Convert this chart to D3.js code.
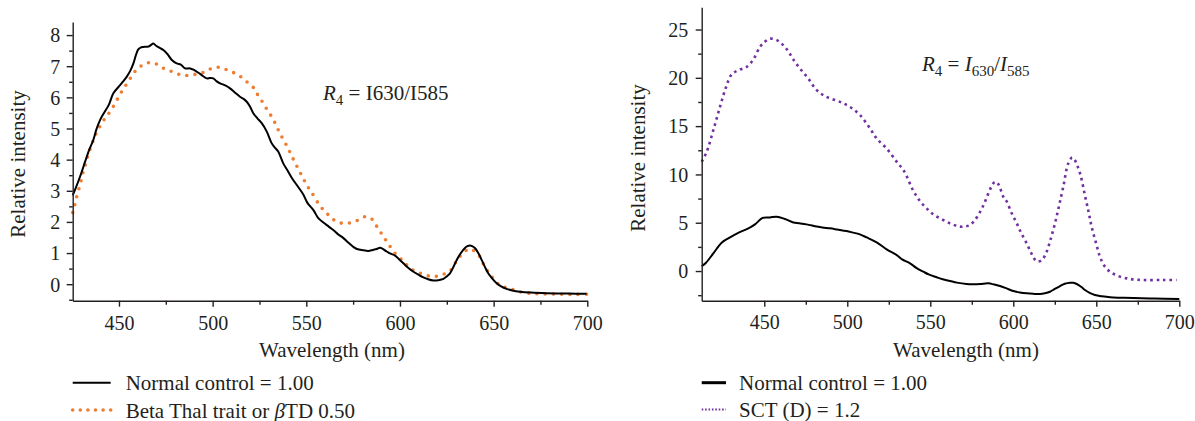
<!DOCTYPE html>
<html>
<head>
<meta charset="utf-8">
<script src="https://cdn.jsdelivr.net/npm/d3@7"></script>
<style>
  body { margin: 0; background: #fff; }
  svg text { font-family: "Liberation Serif", "DejaVu Serif", serif; fill: #231f20; }
</style>
</head>
<body>
<div id="mainDiv"></div>
<script>
// ---- data ----
// left panel: Normal control vs Beta thal trait
var leftNormalNm = [425.3,427,429.2,432,434,436.3,438,439.9,442,444.5,447,450,452,454.1,456,457.7,459,460.3,461.5,463,465.7,467,468.3,470,472,473.7,476,478.2,480.8,483,485.3,488,490,492.4,494.5,496.9,498.5,500.4,502,504,507,509.3,512,514.6,516.5,518.2,520,521.7,524,526.2,528.9,531.5,533,535,537.7,540,542.2,545.7,548.4,550.5,553.8,556.4,559.1,562,564.4,567,569.8,572.5,575.1,577.5,579.6,583.1,585.5,587.6,589.5,592.9,595,597.4,599.5,601.8,604.5,607.2,610,612.5,615,617.8,620.5,623.2,625,626.7,628.5,630.3,632.5,634.7,636,637.4,638.5,640,641.8,643.6,645.4,647.1,649.4,651.6,654,656.9,660,664,670,678.3,690,699.6];
var leftNormalVal = [2.85,3.1,3.45,3.95,4.3,4.63,4.98,5.27,5.5,5.75,6.13,6.35,6.5,6.66,6.85,7.09,7.35,7.54,7.6,7.62,7.63,7.68,7.73,7.65,7.58,7.52,7.38,7.2,7.09,7.05,6.93,6.93,6.88,6.79,6.7,6.61,6.62,6.61,6.52,6.45,6.38,6.29,6.15,6.02,5.95,5.86,5.7,5.49,5.32,5.17,4.9,4.53,4.4,4.26,3.88,3.65,3.42,3.12,2.88,2.62,2.38,2.12,1.98,1.85,1.74,1.6,1.48,1.33,1.2,1.12,1.1,1.07,1.1,1.13,1.17,1.05,0.98,0.92,0.8,0.67,0.52,0.4,0.3,0.22,0.16,0.12,0.13,0.17,0.25,0.35,0.55,0.78,1.0,1.16,1.22,1.24,1.22,1.16,1.0,0.78,0.55,0.35,0.17,0.03,-0.07,-0.15,-0.2,-0.24,-0.27,-0.29,-0.3,-0.31];

var leftBetaNm = [425.3,426,427.4,429.7,431,432.4,433.6,435.1,436.7,438.6,440.8,443.5,446.1,448.4,450.6,452.9,455.5,458,461.2,464.8,468.9,472.8,476.9,481.1,485.2,489.7,494.2,498.2,502.5,506.8,511,515,518.2,521.7,524.1,526.7,528.9,531.5,533.7,535.6,537.7,539.9,541.8,544,546.1,548.1,550.2,552.9,557.4,560.9,564.1,568,572.5,577,581.4,585,587.7,590.3,593,597.4,601.9,605.4,609,613.4,617.5,622.3,626.7,629.4,631.7,634.7,637,638.8,642.3,644.5,646.6,649,652.5,656.6,660.5,665,669.4,674.8,683.7,692.6,700];
var leftBetaVal = [2.3,2.45,2.8,3.3,3.64,3.9,4.17,4.42,4.69,4.93,5.17,5.4,5.62,5.86,6.1,6.32,6.56,6.79,6.98,7.1,7.1,6.96,6.86,6.76,6.7,6.73,6.78,6.9,6.97,6.9,6.8,6.66,6.5,6.32,6.08,5.84,5.62,5.38,5.13,4.88,4.65,4.41,4.17,3.9,3.66,3.42,3.19,2.94,2.51,2.28,2.09,1.97,1.96,2.04,2.17,2.09,1.85,1.61,1.37,0.99,0.73,0.51,0.4,0.3,0.24,0.3,0.42,0.67,0.87,1.06,1.12,1.1,0.91,0.65,0.44,0.24,0.01,-0.11,-0.18,-0.26,-0.29,-0.31,-0.32,-0.33,-0.32];

// right panel: Normal control vs SCT (D)
var rightNormalNm = [412.3,414.9,419.3,424.3,428.3,434.3,440.4,444.4,449,453.4,457.4,462.5,467.5,471,475.5,481.6,485,489.6,494,499.6,503,507.6,511.7,517.7,523.7,529.8,533,537.8,541.8,545.8,549,553.9,557.5,561.9,566,571.9,576,580,585,588.5,592,596,600,604,608.1,612,616.1,619,622.1,625,628.2,631,634.2,636.2,638.2,641,643.2,646,649.2,653.5,658.3,665,672.3,685,700];
var rightNormalVal = [0.5,0.86,1.83,2.93,3.38,3.96,4.41,4.83,5.5,5.55,5.62,5.38,5.03,4.95,4.83,4.6,4.5,4.42,4.3,4.14,4.0,3.79,3.48,2.97,2.24,1.65,1.2,0.8,0.3,-0.07,-0.35,-0.65,-0.85,-1.03,-1.2,-1.34,-1.36,-1.34,-1.27,-1.4,-1.55,-1.8,-2.07,-2.22,-2.31,-2.36,-2.38,-2.3,-2.14,-1.85,-1.55,-1.32,-1.21,-1.22,-1.34,-1.65,-1.96,-2.25,-2.48,-2.62,-2.72,-2.76,-2.79,-2.84,-2.9];

var rightSctNm = [412.3,415.3,419.3,423.3,426.9,430.4,435.4,439.4,443.4,447.4,450.5,453.4,457.5,460,462.5,465,467.5,471.5,476.5,481.6,487.6,495.6,501.6,507.7,513.7,517.7,523.7,529.8,534,539.8,544,547.8,552,557.9,563,567.9,571,573.9,577,580,582.5,585,587,589,591,594,596,599,602.1,605,608.1,611,614.1,616.5,618,620.1,622.5,625.1,627.5,630.1,633.1,635.5,637,640.2,643.2,645.5,647.2,650,652.2,655,658.3,663,668.3,673,678.3,690,698.4];
var rightSctVal = [11.3,12.34,14.58,16.99,19.0,20.37,20.86,21.13,21.89,23.2,23.75,24.05,23.9,23.6,23.2,22.6,21.89,20.96,19.93,18.72,18.02,17.51,16.99,16.13,14.76,13.72,12.69,11.3,10.4,8.3,7.2,6.48,5.85,5.27,4.85,4.6,4.62,4.76,5.3,6.13,7.0,8.04,8.8,9.24,9.0,7.68,7.2,6.0,4.93,3.85,2.86,1.8,1.0,1.05,1.3,2.0,3.3,4.93,6.7,8.72,11.14,11.75,11.5,10.1,7.8,6.0,4.58,2.8,1.48,0.5,-0.07,-0.5,-0.76,-0.88,-0.93,-0.93,-0.93];

// ticks
var xTicks = [450, 500, 550, 600, 650, 700];
var xMinor = [475, 525, 575, 625, 675];
var leftYTicks = [0, 1, 2, 3, 4, 5, 6, 7, 8];
var leftYMinor = [-0.5, 0.5, 1.5, 2.5, 3.5, 4.5, 5.5, 6.5, 7.5];
var rightYTicks = [0, 5, 10, 15, 20, 25];
var rightYMinor = [-2.5, 2.5, 7.5, 12.5, 17.5, 22.5];

var FONT = "Liberation Serif, DejaVu Serif, serif";

var svg;
d3.select("#mainDiv").append("svg")
  .attr("width", 1195)
  .attr("height", 421)
  .attr("font-family", FONT)
  .attr("id", "graph");
svg = d3.select("#graph");

function zip(xs, ys) {
  return xs.map(function (x, i) { return [x, ys[i]]; });
}

function drawAxes(g, x, y, yTicks, yMinor, yLabelGap, xLabelBase) {
  var bottom = y.range()[0];
  var left = x.range()[0];

  // minor ticks first, then the major ones with labels
  g.append("g")
    .attr("transform", "translate(0," + bottom + ")")
    .call(d3.axisBottom(x).tickValues(xMinor).tickSize(4).tickSizeOuter(0).tickFormat(""))
    .call(function (a) { a.select(".domain").remove(); });
  var xa = g.append("g")
    .attr("transform", "translate(0," + bottom + ")")
    .call(d3.axisBottom(x).tickValues(xTicks).tickSize(6).tickSizeOuter(0));
  xa.selectAll("text")
    .attr("y", xLabelBase)
    .attr("dy", null)
    .attr("font-size", "20px");

  g.append("g")
    .attr("transform", "translate(" + left + ",0)")
    .call(d3.axisLeft(y).tickValues(yMinor).tickSize(3.5).tickSizeOuter(0).tickFormat(""))
    .call(function (a) { a.select(".domain").remove(); });
  var ya = g.append("g")
    .attr("transform", "translate(" + left + ",0)")
    .call(d3.axisLeft(y).tickValues(yTicks).tickSize(6).tickSizeOuter(0));
  ya.selectAll("text")
    .attr("x", -yLabelGap)
    .attr("dy", "0.34em")
    .attr("font-size", "20px");

  // d3 puts sans-serif on the axis group, put the serif back
  g.selectAll("g").attr("font-family", FONT);
  g.selectAll(".domain, .tick line")
    .attr("stroke", "#231f20")
    .attr("stroke-width", 1.4);
  g.selectAll("text").attr("font-family", FONT).attr("fill", "#231f20");
}

function drawSeries(g, x, y, pts, style) {
  var line = d3.line()
    .x(function (d) { return x(d[0]); })
    .y(function (d) { return y(d[1]); })
    .curve(d3.curveCatmullRom.alpha(0.5));
  var p = g.append("path")
    .datum(pts)
    .attr("d", line)
    .attr("fill", "none")
    .attr("stroke", style.color)
    .attr("stroke-width", style.width);
  if (style.dash) p.attr("stroke-dasharray", style.dash);
  if (style.cap) p.attr("stroke-linecap", style.cap);
}

function legendRow(g, x0, x1, yLine, label, style) {
  var l = g.append("line")
    .attr("x1", x0).attr("x2", x1)
    .attr("y1", yLine).attr("y2", yLine)
    .attr("stroke", style.color)
    .attr("stroke-width", style.width);
  if (style.dash) l.attr("stroke-dasharray", style.dash);
  if (style.cap) l.attr("stroke-linecap", style.cap);
  var t = g.append("text")
    .attr("x", x1 + style.textGap)
    .attr("y", yLine + 7.5)
    .attr("font-family", FONT)
    .attr("font-size", "21px");
  label(t);
}

var blackStyle = { color: "#000", width: 2 };
var orangeStyle = { color: "#ed7d31", width: 3.6, dash: "0 8.2", cap: "round" };
var purpleStyle = { color: "#7030a0", width: 2.6, dash: "2.6 3.8" };

// ---------- left panel ----------
var gl = svg.append("g");
var xL = d3.scaleLinear().domain([425.3, 700]).range([72.7, 587.3]);
var yL = d3.scaleLinear().domain([-0.53, 8.42]).range([300.7, 22]);

drawSeries(gl, xL, yL, zip(leftBetaNm, leftBetaVal), orangeStyle);
drawSeries(gl, xL, yL, zip(leftNormalNm, leftNormalVal), blackStyle);
drawAxes(gl, xL, yL, leftYTicks, leftYMinor, 12.5, 29.5);

gl.append("text")
  .attr("transform", "translate(25,164) rotate(-90)")
  .attr("text-anchor", "middle")
  .attr("font-size", "21px")
  .text("Relative intensity");
gl.append("text")
  .attr("x", 332).attr("y", 357)
  .attr("text-anchor", "middle")
  .attr("font-size", "21px")
  .text("Wavelength (nm)");

var annL = gl.append("text").attr("x", 323).attr("y", 100).attr("font-size", "21px");
annL.append("tspan").attr("font-style", "italic").text("R");
annL.append("tspan").attr("font-size", "15px").attr("dy", 5).text("4");
annL.append("tspan").attr("dy", -5).text(" = I630/I585");

legendRow(gl, 72.7, 110.7, 382.7, function (t) {
  t.text("Normal control = 1.00");
}, { color: "#000", width: 2, textGap: 15 });
legendRow(gl, 72.7, 110.7, 410, function (t) {
  t.append("tspan").text("Beta Thal trait or ");
  t.append("tspan").attr("font-style", "italic").text("\u03b2");
  t.append("tspan").text("TD 0.50");
}, { color: "#ed7d31", width: 3.6, dash: "0 7.6", cap: "round", textGap: 15 });

// ---------- right panel ----------
var gr = svg.append("g");
var xR = d3.scaleLinear().domain([412.3, 700]).range([701.7, 1179.3]);
var yR = d3.scaleLinear().domain([-3.07, 27.3]).range([300.7, 7.3]);

drawSeries(gr, xR, yR, zip(rightSctNm, rightSctVal), purpleStyle);
drawSeries(gr, xR, yR, zip(rightNormalNm, rightNormalVal), blackStyle);
drawAxes(gr, xR, yR, rightYTicks, rightYMinor, 13.5, 28);

gr.append("text")
  .attr("transform", "translate(645,158) rotate(-90)")
  .attr("text-anchor", "middle")
  .attr("font-size", "21px")
  .text("Relative intensity");
gr.append("text")
  .attr("x", 966).attr("y", 357)
  .attr("text-anchor", "middle")
  .attr("font-size", "21px")
  .text("Wavelength (nm)");

var annR = gr.append("text").attr("x", 922).attr("y", 71).attr("font-size", "21px");
annR.append("tspan").attr("font-style", "italic").text("R");
annR.append("tspan").attr("font-size", "15px").attr("dy", 5).text("4");
annR.append("tspan").attr("dy", -5).text(" = ");
annR.append("tspan").attr("font-style", "italic").text("I");
annR.append("tspan").attr("font-size", "15px").attr("dy", 5).text("630");
annR.append("tspan").attr("dy", -5).text("/");
annR.append("tspan").attr("font-style", "italic").text("I");
annR.append("tspan").attr("font-size", "15px").attr("dy", 5).text("585");

legendRow(gr, 701.7, 726, 382.7, function (t) {
  t.text("Normal control = 1.00");
}, { color: "#000", width: 3, textGap: 13 });
legendRow(gr, 701.7, 726, 409.5, function (t) {
  t.text("SCT (D) = 1.2");
}, { color: "#7030a0", width: 2, dash: "1.6 1.8", textGap: 13 });
</script>
</body>
</html>
